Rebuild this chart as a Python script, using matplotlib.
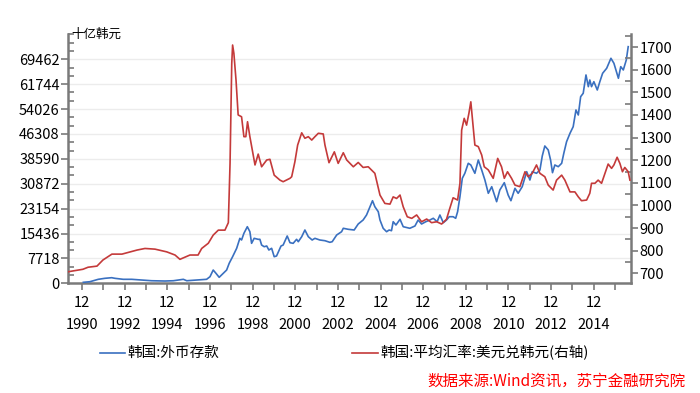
import matplotlib
matplotlib.use("Agg")
import matplotlib.pyplot as plt
from matplotlib.ticker import FixedLocator, MultipleLocator, NullFormatter
import numpy as np

plt.rcParams["font.family"] = ["Noto Sans CJK SC", "DejaVu Sans"]

# 韩国:外币存款 (十亿韩元), left axis
dep_t = [1990.98, 1991.29, 1991.68, 1991.99, 1992.31, 1992.46, 1992.85, 1993.25, 1993.72,
         1994.18, 1994.81, 1995.20, 1995.67, 1995.83, 1996.76, 1996.92, 1997.07, 1997.20,
         1997.35, 1997.54, 1997.70, 1997.82, 1997.98, 1998.17, 1998.32, 1998.40, 1998.51,
         1998.67, 1998.79, 1998.87, 1998.99, 1999.18, 1999.26, 1999.34, 1999.46, 1999.58,
         1999.68, 1999.81, 1999.93, 2000.04, 2000.25, 2000.35, 2000.54, 2000.67, 2000.82,
         2000.98, 2001.06, 2001.22, 2001.37, 2001.53, 2001.71, 2001.84, 2002.07, 2002.31,
         2002.54, 2002.65, 2002.86, 2003.09, 2003.17, 2003.40, 2003.68, 2003.87, 2004.10,
         2004.26, 2004.42, 2004.54, 2004.65, 2004.81, 2004.89, 2005.04, 2005.20, 2005.32,
         2005.43, 2005.51, 2005.64, 2005.83, 2005.98, 2006.29, 2006.53, 2006.68, 2006.84,
         2007.04, 2007.23, 2007.39, 2007.57, 2007.70, 2007.86, 2008.01, 2008.14, 2008.32,
         2008.44, 2008.53, 2008.64, 2008.75, 2008.87, 2009.03, 2009.15, 2009.34, 2009.50,
         2009.66, 2009.81, 2009.97, 2010.13, 2010.36, 2010.51, 2010.72, 2010.90, 2011.03,
         2011.22, 2011.37, 2011.56, 2011.77, 2011.92, 2012.03, 2012.23, 2012.39, 2012.50,
         2012.62, 2012.78, 2012.89, 2012.98, 2013.09, 2013.25, 2013.41, 2013.51, 2013.64,
         2013.80, 2013.95, 2014.08, 2014.19, 2014.30, 2014.42, 2014.55, 2014.66, 2014.73,
         2014.81, 2014.92, 2015.08, 2015.20, 2015.33, 2015.52, 2015.72, 2015.86, 2016.07,
         2016.18, 2016.30, 2016.44, 2016.53]
dep_v = [310, 500, 1240, 1550, 1740, 1550, 1240, 1240, 1020,
         800, 710, 800, 1240, 800, 1240, 2050, 4120, 3100,
         1860, 3100, 4120, 6200, 8250, 10850, 13950, 13430, 15500,
         17550, 16000, 12400, 13950, 13640, 13640, 11870, 11350, 11570,
         10330, 10850, 8250, 8470, 11570, 11870, 14670, 12590, 12400,
         13640, 12900, 14450, 16530, 14450, 13430, 13950, 13430, 13210,
         12710, 12900, 14980, 16000, 17060, 16750, 16530, 18390, 19630,
         21180, 23750, 25610, 23750, 22200, 19630, 17060, 16000, 16530,
         16310, 19100, 18080, 19850, 17550, 17060, 17770, 19630, 18390,
         19100, 19630, 20160, 19100, 21180, 18790, 19630, 20650, 20650,
         20160, 22200, 26860, 32560, 34110, 37210, 36690, 34110, 38230,
         35130, 32030, 27910, 29960, 25310, 28930, 31200, 27380, 25610,
         29460, 27910, 29960, 34610, 32030, 34610, 34110, 35130, 39470,
         42580, 41340, 38230, 34300, 36690, 36160, 37210, 40310, 43910,
         46510, 48560, 53740, 52190, 57870, 58920, 64600, 60970, 63040,
         60970, 62520, 59940, 62520, 65120, 66670, 69770, 68220, 63570,
         67170, 66150, 69250, 73370]

# 韩国:平均汇率:美元兑韩元 (right axis)
fx_t = [1990.26, 1990.96, 1991.20, 1991.62, 1991.90, 1992.32, 1992.79, 1993.50, 1993.87,
        1994.34, 1994.89, 1995.28, 1995.51, 1995.98, 1996.36, 1996.53, 1996.84, 1997.07,
        1997.31, 1997.62, 1997.78, 1997.86, 1997.94, 1997.98, 1998.04, 1998.14, 1998.24,
        1998.40, 1998.51, 1998.60, 1998.68, 1998.79, 1999.03, 1999.18, 1999.34, 1999.58,
        1999.73, 1999.93, 2000.20, 2000.35, 2000.67, 2000.75, 2000.90, 2001.03, 2001.22,
        2001.37, 2001.53, 2001.69, 2001.84, 2002.00, 2002.23, 2002.31, 2002.50, 2002.75,
        2002.93, 2003.17, 2003.33, 2003.64, 2003.87, 2004.10, 2004.34, 2004.65, 2004.89,
        2005.12, 2005.36, 2005.51, 2005.67, 2005.83, 2005.98, 2006.17, 2006.38, 2006.61,
        2006.84, 2007.08, 2007.31, 2007.55, 2007.78, 2008.01, 2008.14, 2008.32, 2008.53,
        2008.64, 2008.72, 2008.84, 2008.95, 2009.06, 2009.15, 2009.34, 2009.50, 2009.66,
        2009.78, 2009.97, 2010.20, 2010.41, 2010.59, 2010.72, 2010.87, 2011.06, 2011.22,
        2011.45, 2011.69, 2011.84, 2012.03, 2012.23, 2012.39, 2012.62, 2012.78, 2013.01,
        2013.17, 2013.41, 2013.56, 2013.80, 2014.03, 2014.19, 2014.34, 2014.58, 2014.73,
        2014.81, 2014.97, 2015.12, 2015.28, 2015.44, 2015.59, 2015.75, 2015.86, 2016.01,
        2016.14, 2016.26, 2016.37, 2016.53, 2016.61]
fx_v = [707, 718, 727, 732, 759, 785, 785, 803, 810,
        807, 795, 781, 762, 781, 781, 810, 833, 869,
        891, 891, 924, 1186, 1628, 1709, 1672, 1554, 1400,
        1392, 1304, 1304, 1370, 1304, 1179, 1227, 1171, 1201,
        1204, 1134, 1112, 1105, 1120, 1127, 1193, 1267, 1321,
        1297, 1304, 1289, 1304, 1319, 1316, 1267, 1189, 1237,
        1186, 1233, 1201, 1171, 1190, 1168, 1171, 1142, 1046,
        1009, 1006, 1038, 1031, 1046, 994, 950, 943, 958,
        928, 940, 924, 928, 918, 939, 980, 1034, 1024,
        1098, 1333, 1385, 1355, 1407, 1458, 1267, 1260, 1223,
        1171, 1157, 1120, 1208, 1171, 1120, 1149, 1120, 1090,
        1083, 1149, 1127, 1142, 1179, 1142, 1127, 1090, 1068,
        1112, 1134, 1112, 1060, 1060, 1038, 1021, 1024, 1054,
        1098, 1098, 1112, 1098, 1142, 1183, 1164, 1179, 1213,
        1186, 1149, 1168, 1149, 1112]

left_ticks = [0, 7718, 15436, 23154, 30872, 38590, 46308, 54026, 61744, 69462]
right_ticks = [700, 800, 900, 1000, 1100, 1200, 1300, 1400, 1500, 1600, 1700]
year_ticks = [1990, 1992, 1994, 1996, 1998, 2000, 2002, 2004, 2006, 2008, 2010, 2012, 2014]

BLUE = "#3a70c0"
RED = "#c43a3a"
SPINE = "#7a7a7a"

fig = plt.figure(figsize=(7.0, 3.93), dpi=100)
ax = fig.add_axes([0.0971, 0.2791, 0.8043, 0.6334])
ax2 = ax.twinx()

ax.plot(dep_t, dep_v, color=BLUE, lw=1.2, zorder=3)
ax2.plot(fx_t, fx_v, color=RED, lw=1.2, zorder=3)

ax.set_xlim(1990.26, 2016.66)
ax.set_ylim(0, 77180)
ax2.set_ylim(656, 1756)

# x axis: tick at December of each year, label every two years
major_x = [y + 11 / 12 for y in year_ticks]
ax.xaxis.set_major_locator(FixedLocator(major_x))
ax.xaxis.set_minor_locator(FixedLocator([y + 1 + 11 / 12 for y in year_ticks]))
ax.set_xticklabels([f"12\n{y}" for y in year_ticks], fontsize=10.5, linespacing=1.75)
ax.tick_params(axis="x", which="both", direction="out", length=5, width=1.2,
               color=SPINE, pad=4)

ax.set_yticks(left_ticks)
ax.set_yticklabels([str(v) for v in left_ticks], fontsize=10.5)
ax.yaxis.set_minor_locator(MultipleLocator(7718 / 3))
ax.tick_params(axis="y", which="major", direction="out", length=5, width=1.2, color=SPINE, pad=1)
ax.tick_params(axis="y", which="minor", direction="in", length=4, width=1.2, color=SPINE)

ax2.set_yticks(right_ticks)
ax2.set_yticklabels([str(v) for v in right_ticks], fontsize=10.5)
ax2.yaxis.set_minor_locator(MultipleLocator(50))
ax2.yaxis.set_minor_formatter(NullFormatter())
ax2.tick_params(axis="y", which="major", direction="out", length=5, width=1.2, color=SPINE, pad=1)
ax2.tick_params(axis="y", which="minor", direction="in", length=4, width=1.2, color=SPINE)

ax.grid(axis="y", color="#ececec", lw=1.0)
ax.set_axisbelow(True)

for a in (ax, ax2):
    a.spines["top"].set_visible(False)
    for side in ("left", "right", "bottom"):
        a.spines[side].set_color(SPINE)
        a.spines[side].set_linewidth(1.8)
ax2.spines["left"].set_visible(False)
ax2.spines["bottom"].set_visible(False)
ax.spines["right"].set_visible(False)

ax.text(0.006, 1.0, "十亿韩元", transform=ax.transAxes, fontsize=9, ha="left", va="center")

# legend drawn manually below the axes
fig.add_artist(plt.Line2D([100 / 700, 125 / 700], [1 - 353 / 393] * 2, color=BLUE, lw=1.2))
fig.text(127 / 700, 1 - 353 / 393, "韩国:外币存款", fontsize=10.5, va="center")
fig.add_artist(plt.Line2D([352 / 700, 378 / 700], [1 - 353 / 393] * 2, color=RED, lw=1.2))
fig.text(380 / 700, 1 - 353 / 393, "韩国:平均汇率:美元兑韩元(右轴)", fontsize=10.5, va="center")

fig.text(686 / 700, 1 - 381 / 393, "数据来源:Wind资讯，苏宁金融研究院", fontsize=11.2,
         color="#ff0000", style="italic", ha="right", va="center")

fig.savefig("out.png", dpi=100)
